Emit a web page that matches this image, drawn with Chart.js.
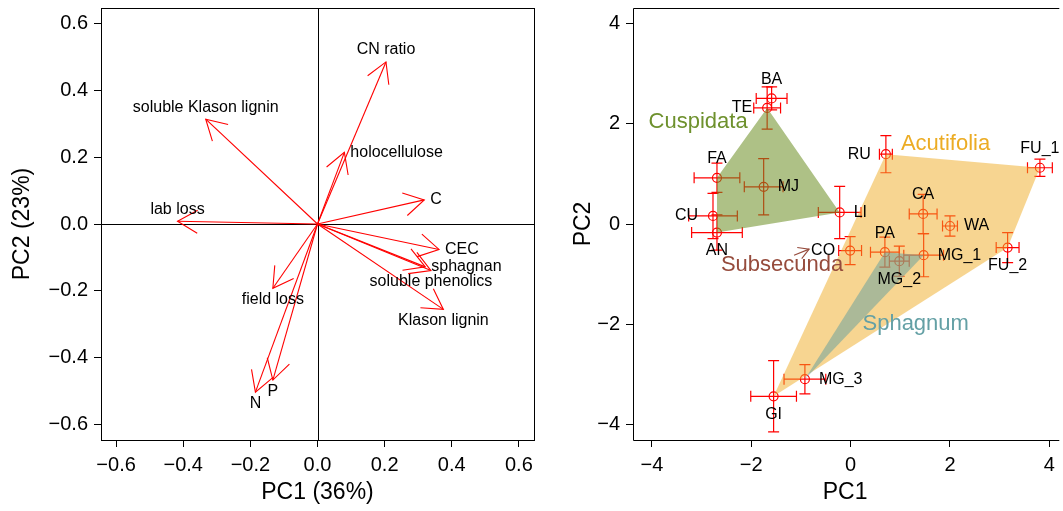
<!DOCTYPE html>
<html><head><meta charset="utf-8">
<script src="https://cdn.jsdelivr.net/npm/chart.js@4/dist/chart.umd.min.js"></script>
<style>
html,body{margin:0;padding:0;background:#fff;overflow:hidden;}
#wrap{position:relative;width:1063px;height:511px;}
#c1{position:absolute;left:0;top:0;}
#c2{position:absolute;left:560px;top:0;}
</style></head><body>
<div id="wrap"><canvas id="c1" width="560" height="511"></canvas><canvas id="c2" width="503" height="511"></canvas></div>
<script>
const FONT = '"Liberation Sans", Arial, Helvetica, sans-serif';

// ---- Left panel: variable loadings ----
const loadingNames = ['CN ratio','soluble Klason lignin','holocellulose','C','lab loss','CEC','sphagnan','soluble phenolics','Klason lignin','field loss','N','P'];
const loadingPC1 = [0.204,-0.333,0.080,0.318,-0.417,0.362,0.321,0.338,0.375,-0.133,-0.185,-0.133];
const loadingPC2 = [0.484,0.313,0.214,0.072,0.008,-0.076,-0.128,-0.139,-0.255,-0.192,-0.502,-0.466];
const loadingLabelPos = ['above','above','right','right','above','right','right','below','below','below','below','below'];
const loadingTicks = [-0.6,-0.4,-0.2,0,0.2,0.4,0.6];

// ---- Right panel: site scores ----
const siteNames = ['BA','TE','FA','MJ','CU','AN','LI','RU','FU_1','CA','WA','CO','PA','MG_2','MG_1','FU_2','MG_3','GI'];
const sitePC1 = [-1.59,-1.68,-2.69,-1.75,-2.77,-2.69,-0.22,0.71,3.81,1.46,2.00,-0.01,0.69,0.98,1.47,3.16,-0.92,-1.55];
const sitePC2 = [2.50,2.31,0.92,0.74,0.16,-0.17,0.23,1.39,1.12,0.20,-0.04,-0.53,-0.56,-0.74,-0.62,-0.47,-3.09,-3.43];
const siteErrPC1 = [0.31,0.27,0.46,0.39,0.49,0.51,0.43,0.13,0.25,0.28,0.15,0.23,0.29,0.20,0.40,0.23,0.42,0.46];
const siteErrPC2 = [0.23,0.42,0.29,0.56,0.45,0.35,0.52,0.37,0.17,0.39,0.20,0.28,0.30,0.30,0.43,0.30,0.29,0.71];
const siteLabelPos = ['above','left','above','right','left','below','right','left','above','above','right','left','above','below','right','below','right','below'];
const scoreTicks = [-4,-2,0,2,4];

const groupNames = ['Cuspidata','Acutifolia','Sphagnum','Subsecunda'];
const groupHulls = [['TE','FA','AN','LI'],['RU','FU_1','FU_2','GI'],['PA','MG_1','MG_3'],[]];
const groupLabelPC1 = [-3.07,1.91,1.31,-1.38];
const groupLabelPC2 = [2.04,1.59,-1.99,-0.82];
const groupPointer = [null,null,null,'CO'];

// styles
const groupFill = ['rgba(107,142,35,0.55)','rgba(240,172,35,0.5)','rgba(95,158,160,0.5)','rgba(0,0,0,0)'];
const groupText = ['rgb(110,145,45)','rgb(236,172,36)','rgb(100,160,165)','rgb(150,75,60)'];
const groupOrder = [3,2,1,4];

const fmtMinus = s => s.replace('-', '\u2212');

function axisCommon(ticks, fmt, title, titlePad) {
  return {
    type:'linear',
    afterBuildTicks: s => { s.ticks = ticks.map(v => ({value:v})); },
    ticks:{ font:{family:FONT,size:20}, color:'#000', padding:6, maxRotation:0, autoSkip:false, callback: fmt },
    grid:{ display:true, drawOnChartArea:false, drawTicks:true, tickLength:7, color:'#000', lineWidth:1 },
    border:{ display:false },
    title:{ display:true, text:title, font:{family:FONT,size:23}, color:'#000', padding:titlePad }
  };
}
const fitX = h => s => { s.height = h; s.paddingLeft = 0; s.paddingRight = 0; };
const fitY = w => s => { s.width = w; s.paddingTop = 0; s.paddingBottom = 0; };

function drawHead(ctx, tx, ty, ox, oy, len) {
  const ang = Math.atan2(oy-ty, ox-tx);
  ctx.beginPath();
  ctx.moveTo(tx + len*Math.cos(ang+Math.PI/6), ty + len*Math.sin(ang+Math.PI/6));
  ctx.lineTo(tx, ty);
  ctx.lineTo(tx + len*Math.cos(ang-Math.PI/6), ty + len*Math.sin(ang-Math.PI/6));
  ctx.stroke();
}

// ---------------- Left chart ----------------
const leftPlugin = {
  id:'leftDecor',
  beforeDatasetsDraw(chart){
    const {ctx, chartArea:a, scales:{x,y}} = chart;
    ctx.save(); ctx.strokeStyle='#000'; ctx.lineWidth=1;
    const x0 = Math.round(x.getPixelForValue(0))+0.5, y0 = Math.round(y.getPixelForValue(0))+0.5;
    ctx.beginPath();
    ctx.moveTo(x0,a.top); ctx.lineTo(x0,a.bottom);
    ctx.moveTo(a.left,y0); ctx.lineTo(a.right,y0);
    ctx.stroke();
    ctx.restore();
  },
  afterDatasetsDraw(chart){
    const {ctx, chartArea:a, scales:{x,y}} = chart;
    ctx.save();
    ctx.strokeStyle='#ff0000'; ctx.lineWidth=1.1;
    const ox = x.getPixelForValue(0), oy = y.getPixelForValue(0);
    loadingNames.forEach((n,i)=>{
      const tx = x.getPixelForValue(loadingPC1[i]), ty = y.getPixelForValue(loadingPC2[i]);
      drawHead(ctx, tx, ty, ox, oy, 23);
    });
    ctx.fillStyle='#000'; ctx.font='16px '+FONT; ctx.textBaseline='middle';
    loadingNames.forEach((n,i)=>{
      const tx = x.getPixelForValue(loadingPC1[i]), ty = y.getPixelForValue(loadingPC2[i]);
      const p = loadingLabelPos[i];
      if (p==='above'){ ctx.textAlign='center'; ctx.fillText(n, tx, ty-12); }
      else if (p==='below'){ ctx.textAlign='center'; ctx.fillText(n, tx, ty+11.5); }
      else if (p==='right'){ ctx.textAlign='left'; ctx.fillText(n, tx+6, ty); }
      else { ctx.textAlign='right'; ctx.fillText(n, tx-6, ty); }
    });
    ctx.strokeStyle='#000'; ctx.lineWidth=1;
    ctx.strokeRect(Math.round(a.left)+0.5, Math.round(a.top)+0.5, Math.round(a.right-a.left), Math.round(a.bottom-a.top));
    ctx.restore();
  }
};

const leftDatasets = loadingNames.map((n,i)=>({
  label:n,
  data:[{x:0,y:0},{x:loadingPC1[i],y:loadingPC2[i]}],
  showLine:true, borderColor:'#ff0000', borderWidth:1.1, pointRadius:0, fill:false, tension:0
}));

new Chart(document.getElementById('c1'), {
  type:'scatter',
  data:{ datasets:leftDatasets },
  options:{
    responsive:false, animation:false, devicePixelRatio:1,
    layout:{ padding:{ top:8, right:26, left:0, bottom:0 } },
    plugins:{ legend:{display:false}, tooltip:{enabled:false} },
    scales:{
      x: Object.assign(axisCommon(loadingTicks, v => fmtMinus(Number(v).toFixed(1)), 'PC1 (36%)', {top:0,bottom:5}),
         { min:-0.645, max:0.645, afterFit: fitX(71) }),
      y: Object.assign(axisCommon(loadingTicks, v => fmtMinus(Number(v).toFixed(1)), 'PC2 (23%)', {top:9,bottom:0}),
         { min:-0.645, max:0.645, afterFit: fitY(101) })
    }
  },
  plugins:[leftPlugin]
});

// ---------------- Right chart ----------------
const idx = n => siteNames.indexOf(n);

const rightPlugin = {
  id:'rightDecor',
  beforeDatasetsDraw(chart){
    const {ctx, scales:{x,y}} = chart;
    ctx.save(); ctx.strokeStyle='#ff0000'; ctx.lineWidth=1.2;
    const cap = 5.5;
    siteNames.forEach((n,i)=>{
      const px = x.getPixelForValue(sitePC1[i]), py = y.getPixelForValue(sitePC2[i]);
      const xl = x.getPixelForValue(sitePC1[i]-siteErrPC1[i]), xr = x.getPixelForValue(sitePC1[i]+siteErrPC1[i]);
      const yt = y.getPixelForValue(sitePC2[i]+siteErrPC2[i]), yb = y.getPixelForValue(sitePC2[i]-siteErrPC2[i]);
      ctx.beginPath();
      ctx.moveTo(xl,py); ctx.lineTo(xr,py);
      ctx.moveTo(xl,py-cap); ctx.lineTo(xl,py+cap);
      ctx.moveTo(xr,py-cap); ctx.lineTo(xr,py+cap);
      ctx.moveTo(px,yt); ctx.lineTo(px,yb);
      ctx.moveTo(px-cap,yt); ctx.lineTo(px+cap,yt);
      ctx.moveTo(px-cap,yb); ctx.lineTo(px+cap,yb);
      ctx.stroke();
    });
    ctx.restore();
  },
  afterDatasetsDraw(chart){
    const {ctx, chartArea:a, scales:{x,y}} = chart;
    ctx.save();
    ctx.fillStyle='#000'; ctx.font='16px '+FONT; ctx.textBaseline='middle';
    siteNames.forEach((n,i)=>{
      const px = x.getPixelForValue(sitePC1[i]), py = y.getPixelForValue(sitePC2[i]);
      const p = siteLabelPos[i];
      if (p==='above'){ ctx.textAlign='center'; ctx.fillText(n, px, py-19); }
      else if (p==='below'){ ctx.textAlign='center'; ctx.fillText(n, px, py+18); }
      else if (p==='right'){ ctx.textAlign='left'; ctx.fillText(n, px+14, py); }
      else { ctx.textAlign='right'; ctx.fillText(n, px-15, py); }
    });
    ctx.font='22px '+FONT; ctx.textAlign='center';
    groupNames.forEach((g,i)=>{
      const gx = x.getPixelForValue(groupLabelPC1[i]), gy = y.getPixelForValue(groupLabelPC2[i]);
      ctx.fillStyle = groupText[i];
      ctx.fillText(g, gx, gy);
      if (groupPointer[i]) {
        const k = idx(groupPointer[i]);
        ctx.font='16px '+FONT;
        const w = ctx.measureText(groupPointer[i]).width;
        ctx.font='22px '+FONT;
        const px = x.getPixelForValue(sitePC1[k]), py = y.getPixelForValue(sitePC2[k]);
        const ex = px - 15 - w - 2, ey = py - 1.5;
        const sx = gx + 12, sy = gy - 10;
        ctx.strokeStyle = groupText[i]; ctx.lineWidth = 1.1;
        ctx.beginPath(); ctx.moveTo(sx,sy); ctx.lineTo(ex,ey); ctx.stroke();
        drawHead(ctx, ex, ey, sx, sy, 12);
      }
    });
    ctx.strokeStyle='#000'; ctx.lineWidth=1;
    const L = Math.round(a.left)+0.5, T = Math.round(a.top)+0.5, B = Math.round(a.bottom)+0.5;
    ctx.beginPath();
    ctx.moveTo(a.right+2, T); ctx.lineTo(L, T); ctx.lineTo(L, B); ctx.lineTo(a.right+2, B);
    ctx.stroke();
    ctx.restore();
  }
};

const polyDatasets = groupNames.map((g,i)=>{
  const pts = groupHulls[i].map(n => ({x:sitePC1[idx(n)], y:sitePC2[idx(n)]}));
  if (pts.length) pts.push(pts[0]);
  return {
    label:g, data:pts, showLine:true, tension:0, pointRadius:0,
    borderColor:'rgba(0,0,0,0)', borderWidth:0,
    backgroundColor:groupFill[i], fill:'shape', order:groupOrder[i]
  };
}).filter(d => d.data.length);

const pointDataset = {
  label:'sites',
  data: siteNames.map((n,i)=>({x:sitePC1[i], y:sitePC2[i]})),
  pointStyle:'circle', pointRadius:4.5, pointBorderWidth:1.2,
  pointBorderColor:'#ff0000', pointBackgroundColor:'rgba(0,0,0,0)',
  showLine:false, order:10
};

new Chart(document.getElementById('c2'), {
  type:'scatter',
  data:{ datasets:[pointDataset, ...polyDatasets] },
  options:{
    responsive:false, animation:false, devicePixelRatio:1,
    layout:{ padding:{ top:8, right:0, left:0, bottom:0 } },
    plugins:{ legend:{display:false}, tooltip:{enabled:false} },
    scales:{
      x: Object.assign(axisCommon(scoreTicks, v => fmtMinus(String(v)), 'PC1', {top:0,bottom:5}),
         { min:-4.38, max:4.16, afterFit: fitX(71) }),
      y: Object.assign(axisCommon(scoreTicks, v => fmtMinus(String(v)), 'PC2', {top:10,bottom:0}),
         { min:-4.3, max:4.3, afterFit: fitY(73) })
    }
  },
  plugins:[rightPlugin]
});
</script>
</body></html>
